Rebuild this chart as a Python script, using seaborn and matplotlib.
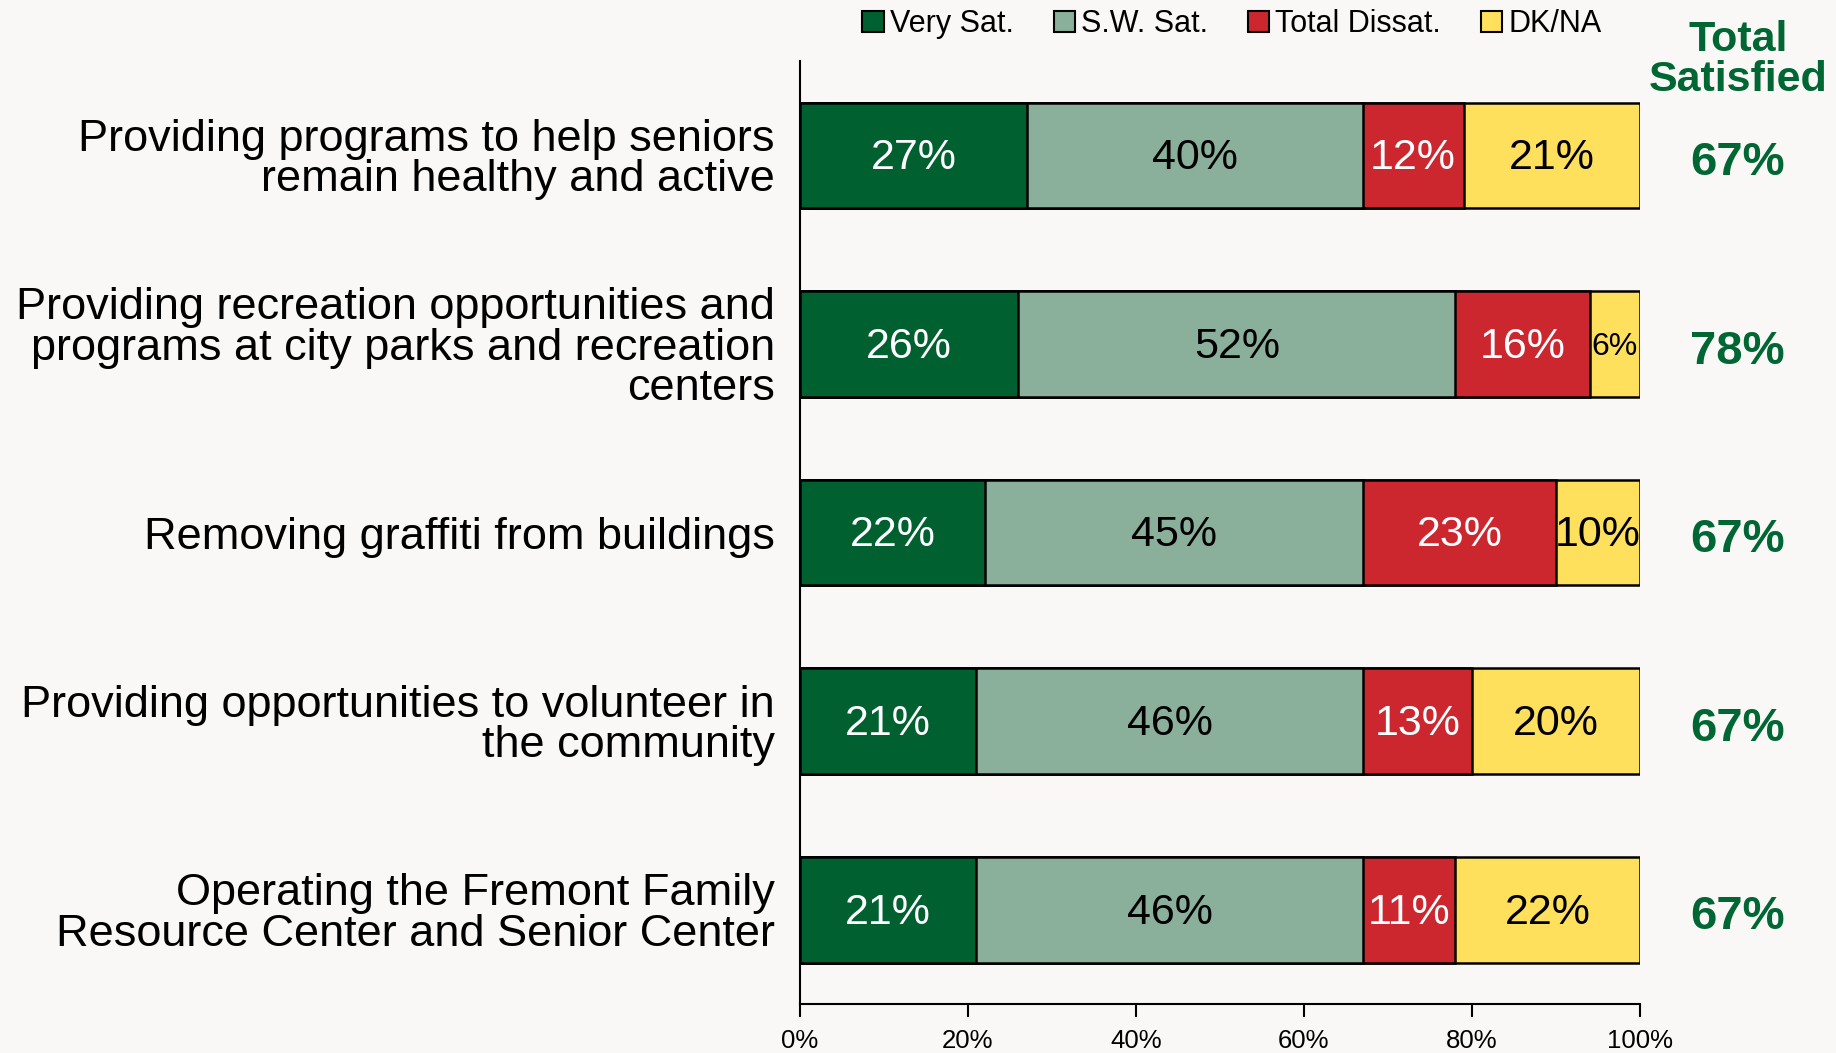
import matplotlib
matplotlib.use("Agg")
import matplotlib.pyplot as plt
import matplotlib.transforms as mtrans
from matplotlib.patches import Patch
import seaborn as sns
import pandas as pd
import numpy as np

categories = [
    "Providing programs to help seniors\nremain healthy and active",
    "Providing recreation opportunities and\nprograms at city parks and recreation\ncenters",
    "Removing graffiti from buildings",
    "Providing opportunities to volunteer in\nthe community",
    "Operating the Fremont Family\nResource Center and Senior Center",
]
very_sat = [27, 26, 22, 21, 21]
sw_sat = [40, 52, 45, 46, 46]
total_dissat = [12, 16, 23, 13, 11]
dk_na = [21, 6, 10, 20, 22]
total_satisfied = [67, 78, 67, 67, 67]
series_names = ["Very Sat.", "S.W. Sat.", "Total Dissat.", "DK/NA"]
xticks = [0, 20, 40, 60, 80, 100]

colors = ["#00602F", "#8AAF9B", "#CC262F", "#FFE05C"]
text_colors = ["white", "black", "white", "black"]
bg = "#F9F8F6"

sns.set_theme(style="white")
plt.rcParams["font.family"] = ["Liberation Sans", "DejaVu Sans"]
plt.rcParams["text.color"] = "black"
plt.rcParams["xtick.color"] = "black"
plt.rcParams["ytick.color"] = "black"

fig = plt.figure(figsize=(18.36, 10.53), dpi=100, facecolor=bg)
ax = fig.add_axes([0.4357, 0.0465, 0.8932 - 0.4357, 0.942 - 0.0465])
ax.set_facecolor(bg)

series = [very_sat, sw_sat, total_dissat, dk_na]
arr = np.array(series, dtype=float)
cum = np.cumsum(arr, axis=0)

# draw stacked bars by overlapping cumulative totals (largest first)
for i in range(3, -1, -1):
    df = pd.DataFrame({"cat": categories, "val": cum[i]})
    sns.barplot(data=df, x="val", y="cat", orient="h", color=colors[i],
                saturation=1, width=0.56, edgecolor="black", linewidth=1.8,
                ax=ax, order=categories)

# segment labels
for i in range(4):
    starts = cum[i] - arr[i]
    for j, cat in enumerate(categories):
        v = arr[i][j]
        fs = 31 if v >= 10 else 23
        ax.text(starts[j] + v / 2, j + 0.015, f"{int(v)}%", ha="center", va="center",
                color=text_colors[i], fontsize=fs)

# total satisfied column
trans = mtrans.blended_transform_factory(fig.transFigure, ax.transData)
for j, t in enumerate(total_satisfied):
    ax.text(0.9465, j + 0.04, f"{t}%", transform=trans, ha="center", va="center",
            color="#006633", fontsize=34, fontweight="bold")
fig.text(0.9465, 0.943, "Total\nSatisfied", ha="center", va="center",
         color="#006633", fontsize=31, fontweight="bold", linespacing=0.98)

ax.set_xlim(0, 100)
ax.set_ylim(4.5, -0.5)
ax.set_xticks(xticks)
ax.set_xticklabels([f"{t}%" for t in xticks], fontsize=18.5)
ax.set_xlabel("")
ax.set_ylabel("")
ax.set_yticks(range(len(categories)))
ax.set_yticklabels(categories, fontsize=32.5, linespacing=0.98)
ax.tick_params(axis="x", which="both", bottom=True, length=9, width=1.5,
               color="black", direction="out", pad=9)
ax.tick_params(axis="y", length=0, pad=18)
for s in ["top", "right"]:
    ax.spines[s].set_visible(False)
for s in ["left", "bottom"]:
    ax.spines[s].set_color("black")
    ax.spines[s].set_linewidth(1.5)

handles = [Patch(facecolor=c, edgecolor="black", linewidth=1.5) for c in colors]
fig.legend(handles, series_names, loc="center", bbox_to_anchor=(0.671, 0.977),
           ncol=4, frameon=False, fontsize=22, handlelength=0.7, handleheight=0.7,
           handletextpad=0.2, columnspacing=1.3)

fig.savefig("out.png", dpi=100, facecolor=bg)
